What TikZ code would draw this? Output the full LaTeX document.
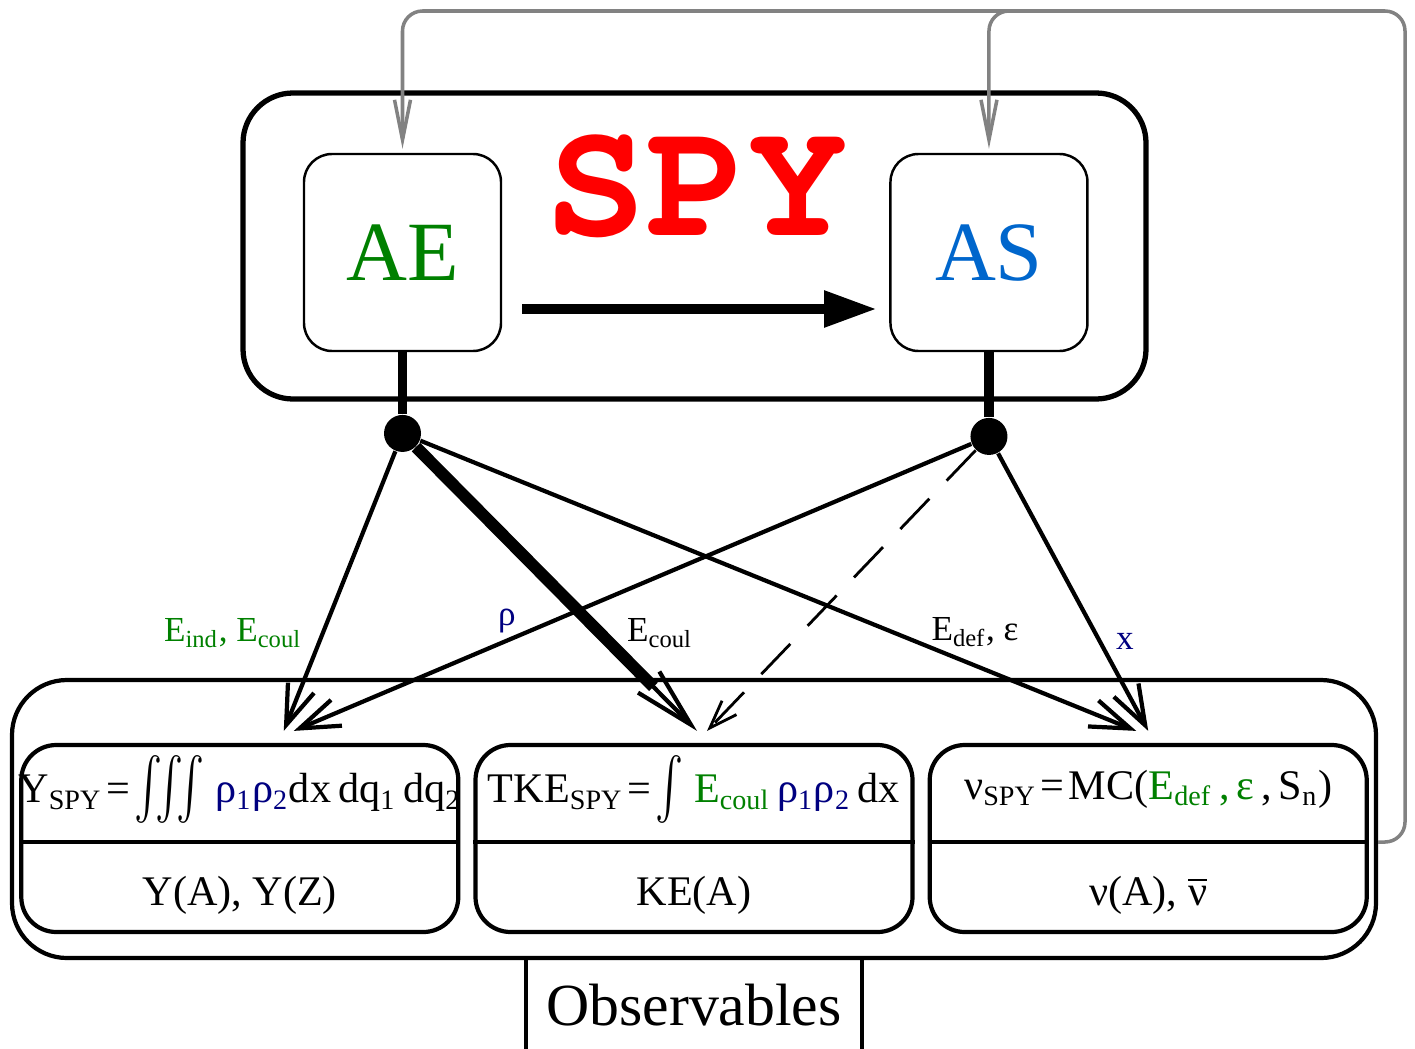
\documentclass[tikz,border=0pt]{standalone}
\usepackage{amsmath}
\usepackage[T1]{fontenc}
\usepackage{fontspec}
\setmainfont{Liberation Serif}
\newcommand{\spyfont}{\fontencoding{T1}\fontfamily{pcr}\fontseries{b}\selectfont}
\usepackage{tikz}
\usetikzlibrary{arrows.meta,calc}
\usetikzlibrary{positioning}
\definecolor{aegreen}{RGB}{0,128,0}
\definecolor{asblue}{RGB}{0,102,204}
\definecolor{rhoblue}{RGB}{0,0,128}
\definecolor{spyred}{RGB}{255,0,0}
\definecolor{fbgray}{RGB}{130,130,130}
\newcommand{\lo}[1]{\textsubscript{#1}}
\newcommand{\tallint}[1]{\raisebox{-0.05em}{\scalebox{1}[1.45]{$#1$}}}
\newcommand{\eq}{\kern1.2pt=\kern1.2pt}
\tikzset{
    frame/.style={
           rectangle,
           rounded corners=0.5cm,
           draw=black, line width=1.5pt,
           },
    state/.style={
           rectangle,
           rounded corners=0.28cm,
           draw=black, line width=0.7pt,
           minimum width=1.97cm,
           minimum height=1.97cm,
           inner sep=0pt,
           font=\fontsize{24}{28}\selectfont,
           },
    obs/.style={
           rectangle,
           rounded corners=0.35cm,
           draw=black, line width=1.2pt,
           minimum width=4.37cm,
           minimum height=1.87cm,
           },
    formula/.style={font=\fontsize{12}{14}\selectfont, inner sep=0pt},
    lab/.style={font=\fontsize{10}{12}\selectfont, inner sep=0pt},
    pil/.style={
           -{Straight Barb[length=0.4cm,width=0.28cm]},
           line width=1.2pt,},
    feedback/.style={
           -{Straight Barb[length=0.4cm,width=0.16cm]},
           draw=fbgray, line width=1pt,
           rounded corners=0.2cm,},
    dot/.style={circle, fill=black, minimum size=0.37cm, inner sep=0pt},
}

\begin{document}
\begin{tikzpicture}
\useasboundingbox (0,0) rectangle (14.15,-10.48);
% Position of the SPY frame (TOP)
\node[frame, minimum width=9.03cm, minimum height=3.06cm] (TOP) at (6.945,-2.46) {};
% Position of AE and AS
\node[state, text=aegreen] (AE) at (4.025,-2.525) {AE};
\node[state, text=asblue, right=3.87cm of AE] (AS) {AS};
\node[font=\spyfont\fontsize{48}{50}\selectfont, text=spyred] (SPY) at (6.97,-1.87) {SPY};
\draw[line width=3.1pt, -{Triangle[length=0.53cm,width=0.34cm]}]
  ([shift={(0.2,-0.565)}]AE.east) -- ([shift={(-0.12,-0.565)}]AS.west);
% Dots under AE and AS
\node[dot, below=0.62cm of AE] (DAE) {};
\node[dot, below=0.65cm of AS] (DAS) {};
\draw[line width=2.6pt] (AE.south) -- (DAE);
\draw[line width=2.6pt] (AS.south) -- (DAS);
% Position of the measurement frame (MEAS)
\node[frame, rounded corners=0.55cm, line width=1.2pt,
minimum width=13.64cm, minimum height=2.78cm] (MEAS) at (6.94,-8.19) {};
\node[obs] (TKE) at (6.94,-8.385) {};
\node[obs, left=0.13cm of TKE] (YIELD) {};
\node[obs, right=0.13cm of TKE] (NU) {};
\draw[line width=1.2pt] ([yshift=-0.035cm]YIELD.west) -- ([yshift=-0.035cm]YIELD.east);
\draw[line width=1.2pt] ([yshift=-0.035cm]TKE.west) -- ([yshift=-0.035cm]TKE.east);
\draw[line width=1.2pt] ([yshift=-0.035cm]NU.west) -- ([yshift=-0.035cm]NU.east);
\coordinate (NUSPLIT) at ([yshift=-0.035cm]NU.east);
% Texts in the boxes
\node[formula] (YIELDF) at ([yshift=0.49cm]YIELD.center)
{Y\lo{SPY}\eq\tallint{\iiint}\ {\color{rhoblue}ρ\lo{1}ρ\lo{2}}dx\,dq\lo{1}\,dq\lo{2}};
\node[formula] (YIELDO) at ([yshift=-0.565cm]YIELD.center) {Y(A), Y(Z)};
\node[formula] (TKEF) at ([yshift=0.49cm]TKE.center)
{TKE\lo{SPY}\eq\tallint{\int}\ {\color{aegreen}E\lo{coul}}\,{\color{rhoblue}ρ\lo{1}ρ\lo{2}}\,dx};
\node[formula] (TKEO) at ([yshift=-0.565cm]TKE.center) {KE(A)};
\node[formula] (NUF) at ([yshift=0.49cm]NU.center)
{ν\lo{SPY}\eq MC({\color{aegreen}E\lo{def}\,,\,ε}\,,\,S\lo{n})};
\node[formula] (NUO) at ([yshift=-0.565cm]NU.center) {ν(A), $\overline{\hbox{ν}}$};
% Observables tab
\node[rectangle, draw, line width=1.2pt, minimum width=3.36cm, minimum height=0.95cm,
below=-1.2pt of MEAS, font=\fontsize{17}{20}\selectfont] (OBS) {Observables};
% Draw lines on graph
\draw[pil] (DAE) -- ([shift={(0.44,0.12)}]YIELD.north);
\draw[pil, -{Straight Barb[length=0.6cm,width=0.3cm]}] (DAE) -- ([shift={(0.03,0.12)}]TKE.north);
\draw[line width=3.4pt, shorten >=0.62cm] (DAE) -- ([shift={(0.03,0.12)}]TKE.north);
\draw[pil] (DAE) -- ([shift={(-0.12,0.12)}]NU.north);
\draw[pil] (DAS) -- ([shift={(0.54,0.12)}]YIELD.north);
\draw[pil, line width=0.8pt, dash pattern=on 0.42cm off 0.25cm,
  -{Straight Barb[length=0.28cm,width=0.2cm]}]
  (DAS) -- ([shift={(0.13,0.12)}]TKE.north);
\draw[pil] (DAS) -- ([shift={(0,0.12)}]NU.north);
% Labels of the lines
\node[lab, text=aegreen] (LIND) at (2.33,-6.33) {E\lo{ind}, E\lo{coul}};
\node[lab, text=rhoblue] (LRHO) at (5.07,-6.21) {ρ};
\node[lab] (LCOUL) at (6.6,-6.33) {E\lo{coul}};
\node[lab] (LDEF) at (9.75,-6.32) {E\lo{def}, ε};
\node[lab, text=rhoblue] (LX) at (11.25,-6.41) {x};
% Feedback lines
\coordinate (FB) at (14.05,-0.11);
\draw[feedback] (MEAS.east |- NUSPLIT) -| (FB) -| ([yshift=0.04cm]AE.north);
\draw[feedback] ([xshift=0.6cm]AS.north |- FB) -| ([yshift=0.04cm]AS.north);
\end{tikzpicture}
\end{document}
